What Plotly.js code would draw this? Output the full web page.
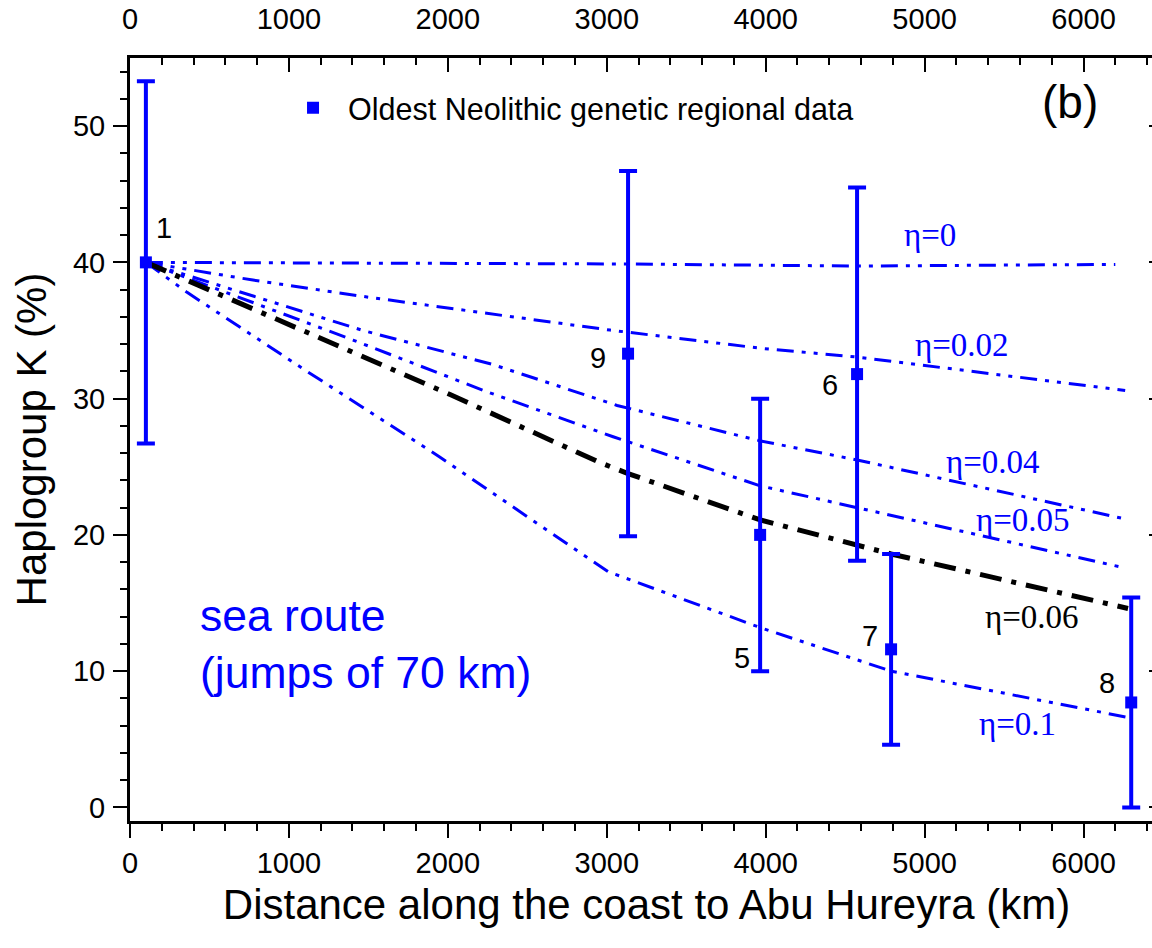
<!DOCTYPE html>
<html>
<head>
<meta charset="utf-8">
<script src="https://cdn.plot.ly/plotly-3.0.1.min.js"></script>
<style>
html,body{margin:0;padding:0;overflow:hidden;background:#fff;}
#chart{width:1170px;height:948px;}
</style>
</head>
<body>
<div id="chart"></div>
<script>
// Data points (oldest Neolithic genetic regional data)
const siteLabels = ["1", "9", "5", "6", "7", "8"];
const siteDist = [100, 3134, 3965, 4575, 4789, 6300];
const siteK = [40, 33.3, 20, 31.8, 11.6, 7.7];
const siteErr = [13.3, 13.4, 10, 13.7, 7.0, 7.7];
const labelX = [214, 2945, 3852, 4405, 4657, 6148];
const labelY = [42.5, 33.0, 11.0, 31.0, 12.6, 9.1];

// Model curves
const eta0X = [100, 1500, 3134, 4575, 6200];
const eta0Y = [40, 39.95, 39.88, 39.73, 39.85];
const eta002X = [100, 774, 1491, 2247, 3021, 3965, 4575, 6262];
const eta002Y = [40, 38.7, 37.46, 36.28, 35.03, 33.7, 33.05, 30.6];
const eta004X = [100, 1466, 2284, 3065, 3965, 4575, 6250];
const eta004Y = [40, 35.0, 32.5, 29.5, 26.9, 25.5, 21.2];
const eta005X = [100, 1403, 2247, 3040, 3965, 4575, 6250];
const eta005Y = [40, 34.3, 30.5, 27.2, 23.6, 22.0, 17.6];
const eta006X = [100, 1114, 2014, 2958, 3134, 3965, 4575, 4789, 6280];
const eta006Y = [40, 34.9, 30.3, 25.3, 24.5, 21.1, 19.2, 18.6, 14.6];
const eta01X = [100, 359, 1114, 1951, 3008, 3965, 4789, 6280];
const eta01Y = [40, 37.8, 32.0, 25.7, 17.3, 13.2, 10.0, 6.6];

const etaLabels = ["η=0", "η=0.02", "η=0.04", "η=0.05", "η=0.06", "η=0.1"];
const etaLabelX = [5034, 5236, 5431, 5620, 5676, 5582];
const etaLabelY = [42.0, 33.9, 25.35, 21.1, 14.0, 6.1];
const etaLabelColor = ["#0000ff", "#0000ff", "#0000ff", "#0000ff", "#000000", "#0000ff"];

const BLUE = "#0000ff";
const blueDash = "17px,8px,4px,8px,4px,8px";
const blackDash = "22px,10px,5px,10px";
const SANS = "Liberation Sans, Arial, sans-serif";
const SERIF = "Liberation Serif, Times New Roman, serif";

function curve(x, y, color, width, dash) {
  return {x: x, y: y, mode: "lines", type: "scatter", showlegend: false, hoverinfo: "skip",
          line: {color: color, width: width, dash: dash}};
}

const traces = [
  curve(eta0X, eta0Y, BLUE, 3, blueDash),
  curve(eta002X, eta002Y, BLUE, 3, blueDash),
  curve(eta004X, eta004Y, BLUE, 3, blueDash),
  curve(eta005X, eta005Y, BLUE, 3, blueDash),
  curve(eta01X, eta01Y, BLUE, 3, blueDash),
  curve(eta006X, eta006Y, "#000000", 5, blackDash),
  {x: siteDist, y: siteK, type: "scatter", mode: "markers", name: "Oldest Neolithic genetic regional data",
   marker: {symbol: "square", size: 12, color: BLUE},
   error_y: {type: "data", array: siteErr, visible: true, color: BLUE, thickness: 4, width: 9},
   showlegend: true},
  {x: [], y: [], xaxis: "x2", yaxis: "y2", showlegend: false, type: "scatter"}
];

const annotations = [];
for (let i = 0; i < siteLabels.length; i++) {
  annotations.push({x: labelX[i], y: labelY[i], xref: "x", yref: "y", text: siteLabels[i], showarrow: false,
    xanchor: "center", yanchor: "middle",
    font: {family: SANS, size: 29, color: "#000"}});
}
for (let i = 0; i < etaLabels.length; i++) {
  annotations.push({x: etaLabelX[i], y: etaLabelY[i], xref: "x", yref: "y", text: etaLabels[i], showarrow: false,
    xanchor: "center", yanchor: "middle",
    font: {family: SERIF, size: 33, color: etaLabelColor[i]}});
}
annotations.push({x: 428, y: 14.1, xref: "x", yref: "y", xanchor: "left", yanchor: "middle", text: "sea route", showarrow: false,
  font: {family: SANS, size: 44.5, color: BLUE}});
annotations.push({x: 428, y: 9.9, xref: "x", yref: "y", xanchor: "left", yanchor: "middle", text: "(jumps of 70 km)", showarrow: false,
  font: {family: SANS, size: 44.5, color: BLUE}});
annotations.push({x: 0.91, y: 0.942, xref: "paper", yref: "paper", xanchor: "center", yanchor: "middle", text: "(b)", showarrow: false,
  font: {family: SANS, size: 46, color: "#000"}});

const tickFont = {family: SANS, size: 29, color: "#000"};
const xRange = [0, 6500];
const yRange = [-1, 55];

const layout = {
  width: 1170, height: 948,
  margin: {l: 130, r: 7, t: 58, b: 127},
  paper_bgcolor: "#fff", plot_bgcolor: "#fff",
  font: {family: SANS, color: "#000"},
  showlegend: true,
  legend: {x: 0.1433, xanchor: "left", y: 0.9345, yanchor: "middle", bgcolor: "rgba(0,0,0,0)",
           itemwidth: 60, font: {family: SANS, size: 30.5, color: "#000"}},
  xaxis: {range: xRange, showgrid: false, zeroline: false, showline: true, linecolor: "#000", linewidth: 3,
          ticks: "outside", ticklen: 14, tickwidth: 2, tickcolor: "#000", dtick: 1000, tick0: 0,
          minor: {ticks: "outside", ticklen: 7, tickwidth: 2, tickcolor: "#000", dtick: 200},
          tickfont: tickFont,
          title: {text: "Distance along the coast to Abu Hureyra (km)", font: {size: 42, family: SANS}, standoff: 12}},
  xaxis2: {range: xRange, overlaying: "x", side: "top", anchor: "y", showgrid: false, zeroline: false, showline: true,
           linecolor: "#000", linewidth: 3, ticks: "inside", ticklen: 14, tickwidth: 2, tickcolor: "#000",
           dtick: 1000, tick0: 0, ticklabelstandoff: 14,
           minor: {ticks: "inside", ticklen: 7, tickwidth: 2, tickcolor: "#000", dtick: 200},
           tickfont: tickFont},
  yaxis: {range: yRange, showgrid: false, zeroline: false, showline: true, linecolor: "#000", linewidth: 3,
          ticks: "outside", ticklen: 14, tickwidth: 2, tickcolor: "#000", dtick: 10, tick0: 0,
          minor: {ticks: "outside", ticklen: 7, tickwidth: 2, tickcolor: "#000", dtick: 2},
          tickfont: tickFont, ticklabelstandoff: 2,
          title: {text: "Haplogroup K (%)", font: {size: 42, family: SANS}, standoff: 14}},
  yaxis2: {range: yRange, overlaying: "y", side: "right", anchor: "x", showgrid: false, zeroline: false, showline: true,
           linecolor: "#000", linewidth: 3, ticks: "inside", ticklen: 14, tickwidth: 2, tickcolor: "#000",
           dtick: 10, tick0: 0, showticklabels: false,
           minor: {ticks: "inside", ticklen: 7, tickwidth: 2, tickcolor: "#000", dtick: 2}},
  annotations: annotations
};

Plotly.newPlot("chart", traces, layout, {displayModeBar: false, staticPlot: true});
</script>
</body>
</html>
